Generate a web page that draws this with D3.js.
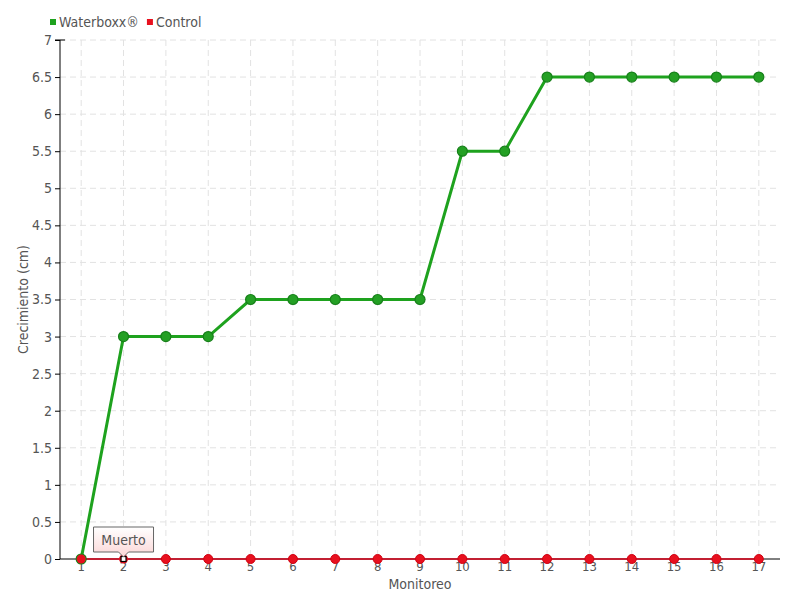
<!DOCTYPE html>
<html>
<head>
<meta charset="utf-8">
<script src="https://cdn.jsdelivr.net/npm/d3@7"></script>
<style>
  body { margin: 0; background: #fff; }
  text { font-family: "DejaVu Sans Condensed", "Liberation Sans Narrow", sans-serif; fill: #555; }
</style>
</head>
<body>
<div id="chart"></div>
<script>
const monitoreo = d3.range(1, 18).map(String);
const waterboxx = [0, 3, 3, 3, 3.5, 3.5, 3.5, 3.5, 3.5, 5.5, 5.5, 6.5, 6.5, 6.5, 6.5, 6.5, 6.5];
const control = [0, 0, 0, 0, 0, 0, 0, 0, 0, 0, 0, 0, 0, 0, 0, 0, 0];
const yTicks = d3.range(0, 7.01, 0.5);
const muertoIndex = 1;

const width = 800, height = 600;
const margin = {left: 60, right: 20, top: 40, bottom: 41};

const svg = d3.select("#chart").append("svg")
  .attr("width", width)
  .attr("height", height);

const x = d3.scaleBand()
  .domain(monitoreo)
  .range([margin.left, width - margin.right]);

const y = d3.scaleLinear()
  .domain([0, 7])
  .range([height - margin.bottom, margin.top]);

const cx = (d, i) => x(monitoreo[i]) + x.bandwidth() / 2;

// grid
const grid = svg.append("g").attr("class", "grid");
grid.selectAll("line.h").data(yTicks.slice(1)).join("line")
  .attr("class", "h")
  .attr("x1", margin.left).attr("x2", width - margin.right)
  .attr("y1", d => y(d)).attr("y2", d => y(d))
  .attr("stroke", "#e2e2e2").attr("stroke-dasharray", "6,4");
grid.selectAll("line.v").data(monitoreo).join("line")
  .attr("class", "v")
  .attr("x1", d => x(d) + x.bandwidth() / 2).attr("x2", d => x(d) + x.bandwidth() / 2)
  .attr("y1", margin.top).attr("y2", height - margin.bottom)
  .attr("stroke", "#e2e2e2").attr("stroke-dasharray", "6,4");

// axes
const yAxis = svg.append("g")
  .attr("transform", `translate(${margin.left},0)`)
  .call(d3.axisLeft(y).tickValues(yTicks).tickSize(5).tickPadding(3).tickFormat(d3.format("")));
yAxis.select(".domain").attr("d", `M0,${y(7)}V${y(0)}`).attr("stroke", "#000");
yAxis.selectAll(".tick line").attr("stroke", "#000");
yAxis.selectAll(".tick text").style("font-size", "14px").attr("fill", "#555");
// cap on top of the axis
yAxis.append("line").attr("x1", -5).attr("x2", 5).attr("y1", y(7)).attr("y2", y(7)).attr("stroke", "#000");

const xAxis = svg.append("g")
  .attr("transform", `translate(0,${y(0)})`)
  .call(d3.axisBottom(x).tickSize(3).tickPadding(0));
xAxis.select(".domain").attr("d", `M${margin.left},0H${width - margin.right}`).attr("stroke", "#000");
xAxis.selectAll(".tick line").attr("stroke", "#aaa");
xAxis.selectAll(".tick text").style("font-size", "13px").attr("fill", "#555");

// axis titles
svg.append("text")
  .attr("transform", `translate(28,${(y(0) + y(7)) / 2}) rotate(-90)`)
  .attr("text-anchor", "middle")
  .style("font-size", "14px")
  .text("Crecimiento (cm)");
svg.append("text")
  .attr("x", (margin.left + width - margin.right) / 2)
  .attr("y", 589)
  .attr("text-anchor", "middle")
  .style("font-size", "14px")
  .text("Monitoreo");

// series
const line = d3.line().x(cx).y(d => y(d));

svg.append("path").datum(waterboxx)
  .attr("d", line).attr("fill", "none")
  .attr("stroke", "#1ea21e").attr("stroke-width", 3);

svg.append("path").datum(control)
  .attr("d", line).attr("fill", "none")
  .attr("stroke", "#d8001a").attr("stroke-width", 1.5);

svg.selectAll("circle.control").data(control).join("circle")
  .attr("class", "control")
  .attr("cx", cx).attr("cy", d => y(d))
  .attr("r", (d, i) => i === muertoIndex ? 0 : 4.5)
  .attr("fill", "#e8101e").attr("stroke", "#d00010").attr("stroke-width", 1);

svg.selectAll("circle.wb").data(waterboxx).join("circle")
  .attr("class", "wb")
  .attr("cx", cx).attr("cy", d => y(d))
  .attr("r", 5)
  .attr("fill", "#24a024").attr("stroke", "#17801a").attr("stroke-width", 1.2);

// red point on top of first green point
svg.append("circle")
  .attr("cx", cx(control[0], 0)).attr("cy", y(control[0]))
  .attr("r", 4.5).attr("fill", "#e8101e");

// muerto marker and label
const mx = cx(control[muertoIndex], muertoIndex), my = y(control[muertoIndex]);
svg.append("circle").attr("cx", mx).attr("cy", my).attr("r", 4.5)
  .attr("fill", "#e8101e");
svg.append("rect").attr("x", mx - 2.5).attr("y", my - 2.5).attr("width", 5).attr("height", 5)
  .attr("fill", "#fff").attr("stroke", "#000").attr("stroke-width", 1.2);

const defs = svg.append("defs");
const grad = defs.append("linearGradient").attr("id", "tipgrad")
  .attr("x1", 0).attr("x2", 0).attr("y1", 0).attr("y2", 1);
grad.append("stop").attr("offset", "0%").attr("stop-color", "#ffffff");
grad.append("stop").attr("offset", "100%").attr("stop-color", "#fbd6d6");

const bw = 60, bh = 25, by = my - 32;
svg.append("path")
  .attr("d", `M${mx - bw / 2},${by}H${mx + bw / 2}V${by + bh}H${mx + 5}L${mx},${by + bh + 5}L${mx - 5},${by + bh}H${mx - bw / 2}Z`)
  .attr("fill", "url(#tipgrad)").attr("stroke", "#666").attr("stroke-width", 1);
svg.append("text")
  .attr("x", mx).attr("y", by + 18)
  .attr("text-anchor", "middle")
  .style("font-size", "14px")
  .text("Muerto");

// legend
const legendItems = [
  {name: "Waterboxx®", color: "#1ea21e"},
  {name: "Control", color: "#e8101e"}
];
const legend = svg.append("g").attr("transform", "translate(50,22)");
let lx = 0;
legendItems.forEach(item => {
  const g = legend.append("g").attr("transform", `translate(${lx},0)`);
  g.append("rect").attr("x", 0).attr("y", -3).attr("width", 6).attr("height", 6).attr("fill", item.color);
  const t = g.append("text").attr("x", 9).attr("y", 5).style("font-size", "14px").text(item.name);
  lx += 9 + t.node().getComputedTextLength() + 8;
});
</script>
</body>
</html>
